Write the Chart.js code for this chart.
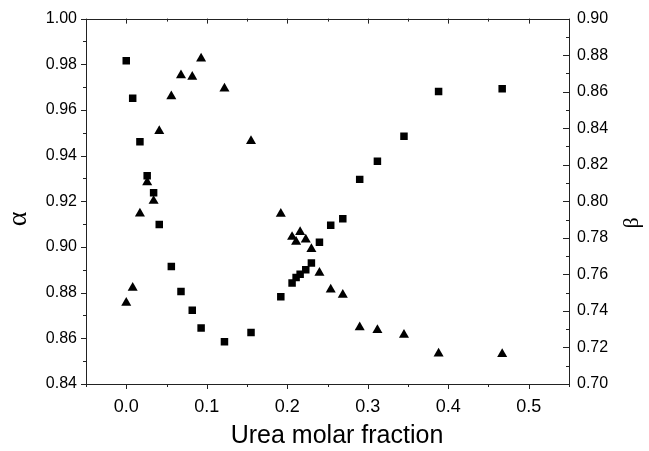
<!DOCTYPE html>
<html>
<head>
<meta charset="utf-8">
<script src="https://cdn.jsdelivr.net/npm/chart.js@4/dist/chart.umd.min.js"></script>
<style>
  html, body { margin: 0; padding: 0; background: #fff; }
  #wrap { width: 649px; height: 451px; }
</style>
</head>
<body>
<div id="wrap"><canvas id="chart" width="649" height="451"></canvas></div>
<script>
// urea molar fraction (shared by both series)
const ureaFraction = [0.000, 0.008, 0.017, 0.026, 0.034, 0.041, 0.056, 0.068, 0.082, 0.093,
  0.122, 0.155, 0.192, 0.206, 0.211, 0.216, 0.223, 0.230, 0.240, 0.254,
  0.269, 0.290, 0.312, 0.345, 0.388, 0.467];

// alpha (left axis, squares)
const alphaValues = [0.9815, 0.9651, 0.9461, 0.9312, 0.9237, 0.9098, 0.8914, 0.8805, 0.8723, 0.8645,
  0.8585, 0.8626, 0.8782, 0.8842, 0.8866, 0.8881, 0.8900, 0.8930, 0.9021, 0.9095,
  0.9124, 0.9296, 0.9375, 0.9485, 0.9681, 0.9693];

// beta (right axis, triangles)
const betaValues = [0.7444, 0.7526, 0.7933, 0.8104, 0.8002, 0.8384, 0.8575, 0.8689, 0.8681, 0.8781,
  0.8617, 0.8330, 0.7931, 0.7805, 0.7778, 0.7832, 0.7791, 0.7739, 0.7608, 0.7517,
  0.7488, 0.7310, 0.7295, 0.7269, 0.7166, 0.7164];

// tick labels
const xTicks = [0.0, 0.1, 0.2, 0.3, 0.4, 0.5];
const alphaTicks = [0.84, 0.86, 0.88, 0.90, 0.92, 0.94, 0.96, 0.98, 1.00];
const betaTicks = [0.70, 0.72, 0.74, 0.76, 0.78, 0.80, 0.82, 0.84, 0.86, 0.88, 0.90];

const xTitle = "Urea molar fraction";
const alphaTitle = "α";
const betaTitle = "β";

// frame, inward/outward ticks and axis titles (Origin style)
const framePlugin = {
  id: "frame",
  afterDraw(chart) {
    const { ctx, chartArea: a, scales } = chart;
    const x = scales.x, y = scales.y, y2 = scales.y2;
    ctx.save();
    ctx.strokeStyle = "#222";
    ctx.lineWidth = 1;
    ctx.strokeRect(Math.round(a.left) + 0.5, Math.round(a.top) + 0.5,
      Math.round(a.right - a.left), Math.round(a.bottom - a.top));

    ctx.beginPath();
    // x ticks: bottom outward, top inward
    for (let i = 0; i <= 12; i++) {
      const v = -0.05 + i * 0.05;
      const px = Math.round(x.getPixelForValue(v)) + 0.5;
      const len = (i % 2 === 1) ? 5 : 3;
      ctx.moveTo(px, a.bottom); ctx.lineTo(px, a.bottom + len);
      ctx.moveTo(px, a.top); ctx.lineTo(px, a.top + len);
    }
    // left ticks outward
    for (let i = 0; i <= 16; i++) {
      const v = 0.84 + i * 0.01;
      const py = Math.round(y.getPixelForValue(v)) + 0.5;
      const len = (i % 2 === 0) ? 5 : 3;
      ctx.moveTo(a.left, py); ctx.lineTo(a.left - len, py);
    }
    // right ticks inward
    for (let i = 0; i <= 20; i++) {
      const v = 0.70 + i * 0.01;
      const py = Math.round(y2.getPixelForValue(v)) + 0.5;
      const len = (i % 2 === 0) ? 6 : 3;
      ctx.moveTo(a.right, py); ctx.lineTo(a.right - len, py);
    }
    ctx.stroke();

    // axis titles
    ctx.fillStyle = "#000";
    ctx.textAlign = "center";
    ctx.textBaseline = "middle";
    ctx.font = "25px 'Liberation Sans', Arial, sans-serif";
    ctx.fillText(xTitle, 337, 436);

    ctx.font = "28px 'Liberation Serif', serif";
    ctx.save();
    ctx.translate(19, 219);
    ctx.rotate(-Math.PI / 2);
    ctx.fillText(alphaTitle, 0, 0);
    ctx.restore();

    ctx.font = "22px 'Liberation Serif', serif";
    ctx.save();
    ctx.translate(632, 223);
    ctx.rotate(-Math.PI / 2);
    ctx.fillText(betaTitle, 0, 0);
    ctx.restore();
    ctx.restore();
  }
};

const ctx = document.getElementById("chart").getContext("2d");

new Chart(ctx, {
  type: "scatter",
  data: {
    datasets: [
      {
        label: "α",
        data: ureaFraction.map((u, i) => ({ x: u, y: alphaValues[i] })),
        yAxisID: "y",
        pointStyle: "rect",
        pointRadius: 5.3,
        backgroundColor: "#000",
        borderColor: "#000",
        borderWidth: 0,
      },
      {
        label: "β",
        data: ureaFraction.map((u, i) => ({ x: u, y: betaValues[i] })),
        yAxisID: "y2",
        pointStyle: "triangle",
        pointRadius: 5.8,
        backgroundColor: "#000",
        borderColor: "#000",
        borderWidth: 0,
      },
    ],
  },
  options: {
    responsive: false,
    animation: false,
    layout: { padding: { top: 18, left: 0, right: 0, bottom: 0 } },
    plugins: {
      legend: { display: false },
      tooltip: { enabled: false },
    },
    scales: {
      x: {
        type: "linear",
        position: "bottom",
        min: -0.05,
        max: 0.55,
        afterBuildTicks: (s) => { s.ticks = xTicks.map((v) => ({ value: v })); },
        afterFit: (s) => { s.height = 67; },
        grid: { display: false, drawTicks: false },
        border: { display: false },
        ticks: {
          padding: 12,
          color: "#000",
          font: { family: "'Liberation Sans', Arial, sans-serif", size: 18 },
          maxRotation: 0,
          callback: (v) => v.toFixed(1),
        },
      },
      y: {
        type: "linear",
        position: "left",
        min: 0.84,
        max: 1.0,
        afterBuildTicks: (s) => { s.ticks = alphaTicks.map((v) => ({ value: v })); },
        afterFit: (s) => { s.width = 86; },
        grid: { display: false, drawTicks: false },
        border: { display: false },
        ticks: {
          padding: 9,
          color: "#000",
          font: { family: "'Liberation Sans', Arial, sans-serif", size: 16 },
          callback: (v) => v.toFixed(2),
        },
      },
      y2: {
        type: "linear",
        position: "right",
        min: 0.70,
        max: 0.90,
        afterBuildTicks: (s) => { s.ticks = betaTicks.map((v) => ({ value: v })); },
        afterFit: (s) => { s.width = 80; },
        grid: { display: false, drawTicks: false },
        border: { display: false },
        ticks: {
          padding: 8,
          color: "#000",
          font: { family: "'Liberation Sans', Arial, sans-serif", size: 16 },
          callback: (v) => v.toFixed(2),
        },
      },
    },
  },
  plugins: [framePlugin],
});
</script>
</body>
</html>
